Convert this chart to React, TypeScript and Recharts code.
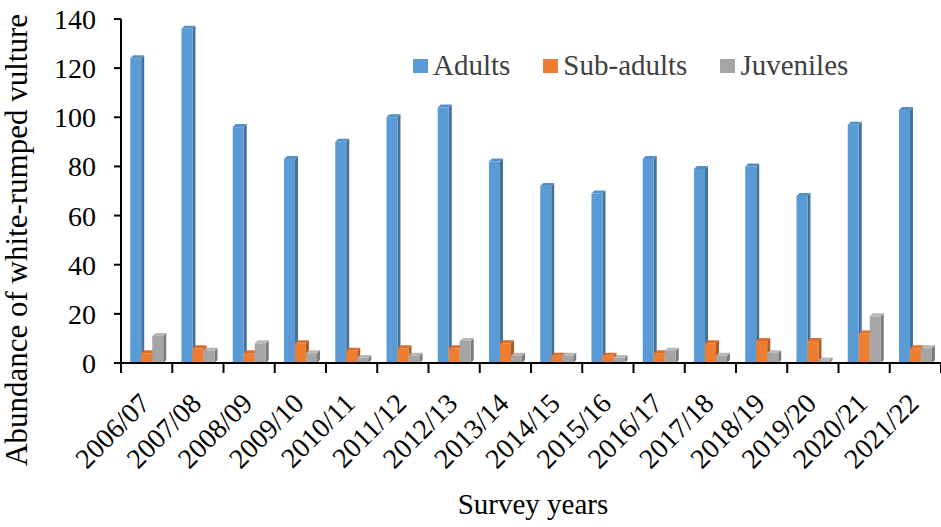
import React from 'react';
import { BarChart, Bar, XAxis, YAxis, Legend } from 'recharts';

const years = [
  '2006/07', '2007/08', '2008/09', '2009/10', '2010/11', '2011/12', '2012/13', '2013/14',
  '2014/15', '2015/16', '2016/17', '2017/18', '2018/19', '2019/20', '2020/21', '2021/22',
];
const adults = [124, 136, 96, 83, 90, 100, 104, 82, 72, 69, 83, 79, 80, 68, 97, 103];
const subAdults = [4, 6, 4, 8, 5, 6, 6, 8, 3, 3, 4, 8, 9, 9, 12, 6];
const juveniles = [11, 5, 8, 4, 2, 3, 9, 3, 3, 2, 5, 3, 4, 1, 19, 6];
const yTicks = [0, 20, 40, 60, 80, 100, 120, 140];

const data = years.map((year, i) => ({
  year,
  adults: adults[i],
  subAdults: subAdults[i],
  juveniles: juveniles[i],
}));

const W = 941;
const H = 527;
const Y_AXIS_W = 121;
const X_AXIS_H = 164;
const AXIS_Y = H - X_AXIS_H;
const BAND = (W - Y_AXIS_W) / years.length;
const FONT = '"Liberation Serif", "Times New Roman", serif';

const series = [
  { key: 'adults', name: 'Adults', front: '#5B9BD5', side: '#41719C', top: '#5590C8' },
  { key: 'subAdults', name: 'Sub-adults', front: '#ED7D31', side: '#AE5A21', top: '#D96F28' },
  { key: 'juveniles', name: 'Juveniles', front: '#A5A5A5', side: '#7B7B7B', top: '#B8B8B8' },
];

// column with a little depth: front face, darker right side, top face
const make3D = (front: string, side: string, top: string) => (props: any) => {
  const { x, y, width, height } = props;
  if (height == null || height <= 0) return <g />;
  const d = 3;
  return (
    <g>
      <polygon
        points={`${x + width},${y} ${x + width + d},${y - d} ${x + width + d},${y + height - d} ${x + width},${y + height}`}
        fill={side}
      />
      <polygon
        points={`${x},${y} ${x + d},${y - d} ${x + width + d},${y - d} ${x + width},${y}`}
        fill={top}
      />
      <rect x={x} y={y} width={width} height={height} fill={front} />
    </g>
  );
};

// category label rotated 45 degrees, plus tick marks on the category borders
const YearTick = (props: any) => {
  const { x, payload, index } = props;
  const left = x - BAND / 2;
  const ax = x + 5;
  const ay = AXIS_Y + 42;
  return (
    <g>
      <line x1={left} y1={AXIS_Y} x2={left} y2={AXIS_Y + 10} stroke="#000" strokeWidth={2} />
      {index === years.length - 1 && (
        <line x1={left + BAND} y1={AXIS_Y} x2={left + BAND} y2={AXIS_Y + 10} stroke="#000" strokeWidth={2} />
      )}
      <text
        x={ax}
        y={ay}
        transform={`rotate(-45, ${ax}, ${ay})`}
        textAnchor="end"
        fontFamily={FONT}
        fontSize={28}
        fill="#000"
      >
        {payload.value}
      </text>
    </g>
  );
};

const LegendBox = () => (
  <div style={{ display: 'flex', alignItems: 'center', fontFamily: FONT, fontSize: 29, color: '#404040', whiteSpace: 'nowrap' }}>
    {series.map((s) => (
      <div key={s.key} style={{ display: 'flex', alignItems: 'center', marginRight: 33 }}>
        <span style={{ width: 15, height: 14, background: s.front, display: 'inline-block', marginRight: 5 }} />
        <span>{s.name}</span>
      </div>
    ))}
  </div>
);

export default function App() {
  return (
    <div style={{ position: 'absolute', left: 0, top: 0, width: W, height: H, background: '#fff' }}>
      <BarChart
        width={W}
        height={H}
        data={data}
        margin={{ top: 19, right: 0, bottom: 0, left: 0 }}
        barCategoryGap="18%"
        barGap={0}
      >
        <XAxis
          dataKey="year"
          height={X_AXIS_H}
          axisLine={{ stroke: '#000', strokeWidth: 2 }}
          tickLine={false}
          tickSize={0}
          tickMargin={0}
          interval={0}
          tick={<YearTick />}
          label={{
            content: () => (
              <text x={533} y={514} textAnchor="middle" fontFamily={FONT} fontSize={29} fill="#000">
                Survey years
              </text>
            ),
          }}
        />
        <YAxis
          width={Y_AXIS_W}
          domain={[0, 140]}
          ticks={yTicks}
          interval={0}
          axisLine={{ stroke: '#000', strokeWidth: 2 }}
          tickLine={{ stroke: '#000', strokeWidth: 2 }}
          tickSize={7}
          tickMargin={18}
          tick={{ fontFamily: FONT, fontSize: 28, fill: '#000' }}
          label={{
            content: () => (
              <text
                x={27}
                y={240}
                transform="rotate(-90, 27, 240)"
                textAnchor="middle"
                fontFamily={FONT}
                fontSize={31}
                fill="#000"
              >
                Abundance of white-rumped vulture
              </text>
            ),
          }}
        />
        <Legend
          verticalAlign="middle"
          align="center"
          content={<LegendBox />}
          wrapperStyle={{ top: 49, left: 413, width: 'auto', height: 'auto' }}
        />
        {series.map((s) => (
          <Bar
            key={s.key}
            dataKey={s.key}
            name={s.name}
            fill={s.front}
            shape={make3D(s.front, s.side, s.top)}
            isAnimationActive={false}
          />
        ))}
      </BarChart>
    </div>
  );
}
